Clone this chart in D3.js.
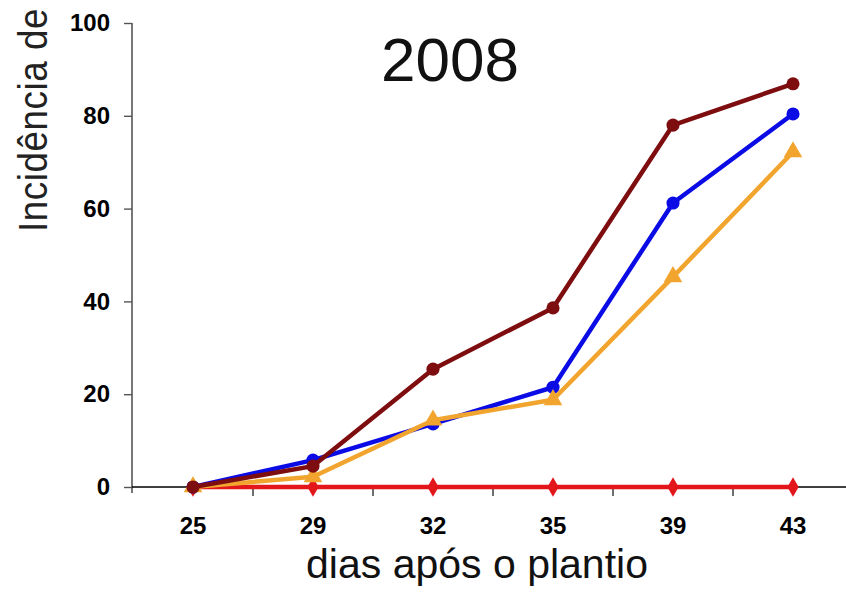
<!DOCTYPE html>
<html>
<head>
<meta charset="utf-8">
<script src="https://cdn.jsdelivr.net/npm/d3@7"></script>
<style>
  html, body { margin: 0; padding: 0; background: #fff; overflow: hidden; }
  svg { display: block; font-family: "Liberation Sans", Arial, sans-serif; }
</style>
</head>
<body>
<svg id="chart" width="846" height="593"></svg>
<script>
const categories = ["25", "29", "32", "35", "39", "43"];
const yTicks = [0, 20, 40, 60, 80, 100];
const seriesMaroon = [0, 4.5, 25.4, 38.6, 78.0, 86.9];
const seriesBlue   = [0, 5.8, 13.6, 21.5, 61.2, 80.4];
const seriesOrange = [0, 2.2, 14.4, 18.8, 45.3, 72.2];
const seriesRed    = [0, 0, 0, 0, 0, 0];
const titleText = "2008";
const xTitle = "dias após o plantio";
const yTitle = "Incidência de";

const series = [
  { name: "red", values: seriesRed, color: "#e2161b", marker: "diamond" },
  { name: "blue", values: seriesBlue, color: "#0b0be6", marker: "circle" },
  { name: "orange", values: seriesOrange, color: "#f2a52e", marker: "triangle" },
  { name: "maroon", values: seriesMaroon, color: "#7d0d0f", marker: "circle" }
];

const svg = d3.select("#chart");
const x = d3.scaleBand().domain(categories).range([133, 853]).paddingInner(0).paddingOuter(0);
const y = d3.scaleLinear().domain([0, 100]).range([487, 23]);
const cx = c => x(c) + x.bandwidth() / 2;

// Y axis
const yAxis = svg.append("g").attr("transform", "translate(132,0)")
  .call(d3.axisLeft(y).tickValues(yTicks).tickSize(8).tickPadding(14).tickSizeOuter(0));
yAxis.select(".domain").attr("stroke", "#555").attr("stroke-width", 1.6).attr("d", "M0,23V493");
yAxis.selectAll(".tick line").attr("stroke", "#555").attr("stroke-width", 1.4);
yAxis.selectAll(".tick text").attr("font-size", 24).attr("font-weight", "bold")
  .attr("fill", "#000").attr("font-family", "'Liberation Sans', Arial, sans-serif");

// X axis
const xAxis = svg.append("g").attr("transform", "translate(0,487)")
  .call(d3.axisBottom(x).tickSize(0).tickPadding(30).tickSizeOuter(0));
xAxis.select(".domain").attr("stroke", "#000").attr("stroke-width", 1.6).attr("d", "M132,0H853");
xAxis.selectAll(".tick text").attr("font-size", 24).attr("font-weight", "bold")
  .attr("fill", "#000").attr("font-family", "'Liberation Sans', Arial, sans-serif");
xAxis.selectAll(".edge").data(categories.slice(1)).enter().append("line")
  .attr("class", "edge")
  .attr("x1", c => x(c)).attr("x2", c => x(c))
  .attr("y1", 0).attr("y2", 9)
  .attr("stroke", "#333").attr("stroke-width", 1.4);

// Lines and markers
const line = d3.line().x((d, i) => cx(categories[i])).y(d => y(d));
const sym = {
  circle: d3.symbol().type(d3.symbolCircle).size(135),
  triangle: d3.symbol().type(d3.symbolTriangle).size(150),
  diamond: d3.symbol().type(d3.symbolDiamond).size(110)
};
series.forEach(s => {
  const g = svg.append("g");
  g.append("path").datum(s.values).attr("d", line)
    .attr("fill", "none").attr("stroke", s.color).attr("stroke-width", 4.5)
    .attr("stroke-linejoin", "round");
  g.selectAll("path.m").data(s.values).enter().append("path")
    .attr("class", "m")
    .attr("d", sym[s.marker])
    .attr("transform", (d, i) => `translate(${cx(categories[i])},${y(d)})`)
    .attr("fill", s.color);
});

// Titles
svg.append("text").attr("x", 450).attr("y", 81).attr("text-anchor", "middle")
  .attr("font-size", 62).attr("fill", "#111").text(titleText);
svg.append("text").attr("x", 477).attr("y", 578).attr("text-anchor", "middle")
  .attr("font-size", 41).attr("fill", "#111").text(xTitle);
svg.append("text").attr("transform", "translate(47,232) rotate(-90) scale(0.92,1)")
  .attr("text-anchor", "start").attr("font-size", 40).attr("letter-spacing", 0.6)
  .attr("fill", "#222").text(yTitle);
</script>
</body>
</html>
